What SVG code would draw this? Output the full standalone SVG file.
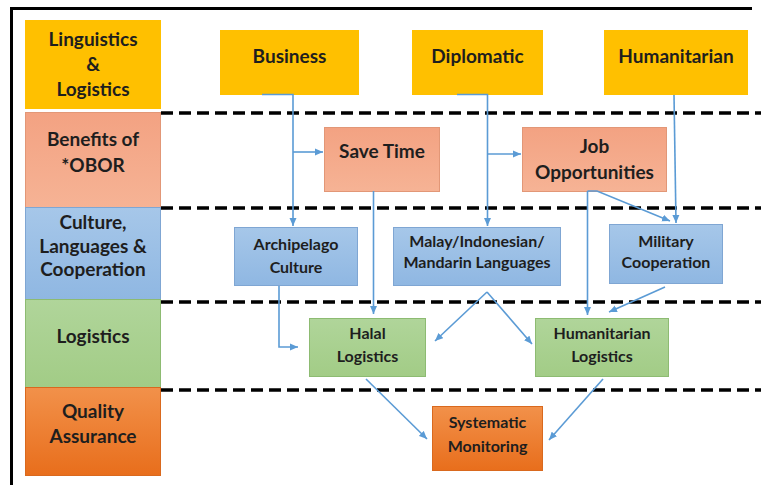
<svg xmlns="http://www.w3.org/2000/svg" width="761" height="485" viewBox="0 0 761 485">
<defs>
<linearGradient id="gSal" x1="0" y1="0" x2="0" y2="1"><stop offset="0" stop-color="#F3A282"/><stop offset="1" stop-color="#F6B395"/></linearGradient>
<linearGradient id="gBlue" x1="0" y1="0" x2="0" y2="1"><stop offset="0" stop-color="#A6C7E9"/><stop offset="1" stop-color="#8FB7E2"/></linearGradient>
<linearGradient id="gGreen" x1="0" y1="0" x2="0" y2="1"><stop offset="0" stop-color="#B0D59A"/><stop offset="1" stop-color="#A2CC86"/></linearGradient>
<linearGradient id="gOr" x1="0" y1="0" x2="0" y2="1"><stop offset="0" stop-color="#F2914A"/><stop offset="1" stop-color="#E86E1C"/></linearGradient>
<marker id="ah" markerUnits="userSpaceOnUse" markerWidth="9" markerHeight="8" refX="8" refY="4" orient="auto"><path d="M0,0.5 L8,4 L0,7.5 z" fill="#5B9BD5"/></marker>
<style>
text{font-family:Lato,"Open Sans","Liberation Sans",sans-serif;font-weight:bold;fill:#1e1e1e;text-anchor:middle}
.big{font-size:19px}
.sm{font-size:16px}
.yel{fill:#FFC000}
.sal{fill:url(#gSal);stroke:#E29777;stroke-width:1}
.blu{fill:url(#gBlue);stroke:#7FA6D3;stroke-width:1}
.grn{fill:url(#gGreen);stroke:#8DBB72;stroke-width:1}
.org{fill:url(#gOr);stroke:#D9691E;stroke-width:1}
.dash{stroke:#000;stroke-width:3.5;stroke-dasharray:12 6;fill:none}
.con{stroke:#5B9BD5;stroke-width:1.6;fill:none}
.arr{marker-end:url(#ah)}
</style>
</defs>
<rect width="761" height="485" fill="#fff"/>
<path d="M11.5,485 V8.5 H752" fill="none" stroke="#000" stroke-width="3"/>

<g id="dashes">
<line class="dash" x1="161" y1="113" x2="761" y2="113"/>
<line class="dash" x1="161" y1="208" x2="761" y2="208"/>
<line class="dash" x1="161" y1="302" x2="761" y2="302"/>
<line class="dash" x1="161" y1="390" x2="761" y2="390"/>
</g>

<g id="lane-linguistics"><rect class="yel" x="25" y="20" width="136" height="89"/><text class="big" x="93" y="46">Linguistics</text><text class="big" x="93" y="70.5">&amp;</text><text class="big" x="93" y="95.5">Logistics</text></g>
<g id="lane-benefits"><rect class="sal" x="25.5" y="112.5" width="135" height="95"/><text class="big" x="93" y="146">Benefits of</text><text class="big" x="93" y="172">*OBOR</text></g>
<g id="lane-culture"><rect class="blu" x="25.5" y="207.5" width="135" height="92"/><text class="big" x="93" y="229">Culture,</text><text class="big" x="93" y="253">Languages &amp;</text><text class="big" x="93" y="276">Cooperation</text></g>
<g id="lane-logistics"><rect class="grn" x="25.5" y="299.5" width="135" height="88"/><text class="big" x="93" y="343">Logistics</text></g>
<g id="lane-quality"><rect class="org" x="25.5" y="387.5" width="135" height="88"/><text class="big" x="93" y="418">Quality</text><text class="big" x="93" y="443">Assurance</text></g>

<g id="business"><rect class="yel" x="220" y="30" width="139" height="65"/><text class="big" x="289.5" y="63">Business</text></g>
<g id="diplomatic"><rect class="yel" x="412" y="30" width="131" height="65"/><text class="big" x="477.5" y="63">Diplomatic</text></g>
<g id="humanitarian"><rect class="yel" x="604" y="30" width="144" height="65"/><text class="big" x="676" y="63">Humanitarian</text></g>

<g id="save-time"><rect class="sal" x="324.5" y="127.5" width="115" height="64"/><text class="big" x="382" y="158">Save Time</text></g>
<g id="job-opportunities"><rect class="sal" x="522.5" y="127.5" width="144" height="64"/><text class="big" x="594.5" y="153">Job</text><text class="big" x="594.5" y="179">Opportunities</text></g>

<g id="archipelago"><rect class="blu" x="234.5" y="227.5" width="123" height="58"/><text class="sm" x="296" y="250">Archipelago</text><text class="sm" x="296" y="273">Culture</text></g>
<g id="languages"><rect class="blu" x="393.5" y="227.5" width="167" height="58"/><text class="sm" x="477" y="247">Malay/Indonesian/</text><text class="sm" x="477" y="268">Mandarin Languages</text></g>
<g id="military"><rect class="blu" x="609.5" y="224.5" width="113" height="59"/><text class="sm" x="666" y="247">Military</text><text class="sm" x="666" y="268">Cooperation</text></g>

<g id="halal"><rect class="grn" x="309.5" y="318.5" width="116" height="58"/><text class="sm" x="367.5" y="339">Halal</text><text class="sm" x="367.5" y="362">Logistics</text></g>
<g id="hum-logistics"><rect class="grn" x="535.5" y="318.5" width="133" height="58"/><text class="sm" x="602" y="339">Humanitarian</text><text class="sm" x="602" y="362">Logistics</text></g>

<g id="monitoring"><rect class="org" x="432.5" y="406.5" width="110" height="64"/><text class="sm" x="487.5" y="428">Systematic</text><text class="sm" x="487.5" y="452">Monitoring</text></g>

<g id="connectors">
<path class="con arr" d="M262,94.5 H293 V226"/>
<path class="con arr" d="M293,152 H323"/>
<path class="con arr" d="M457,94.5 H487.5 V226"/>
<path class="con arr" d="M487.5,154 H521"/>
<path class="con arr" d="M674,95 L676,223"/>
<path class="con arr" d="M587.5,191 V315"/>
<path class="con arr" d="M587.5,191 H597 L670,221"/>
<path class="con arr" d="M373.5,191 V314"/>
<path class="con arr" d="M279,286 V347 H298"/>
<path class="con arr" d="M487,292 L435,341"/>
<path class="con arr" d="M487,292 L532,344"/>
<path class="con arr" d="M665,287 L609,312"/>
<path class="con arr" d="M366,379 L427,439"/>
<path class="con arr" d="M603,379 L549,440"/>
</g>
</svg>
